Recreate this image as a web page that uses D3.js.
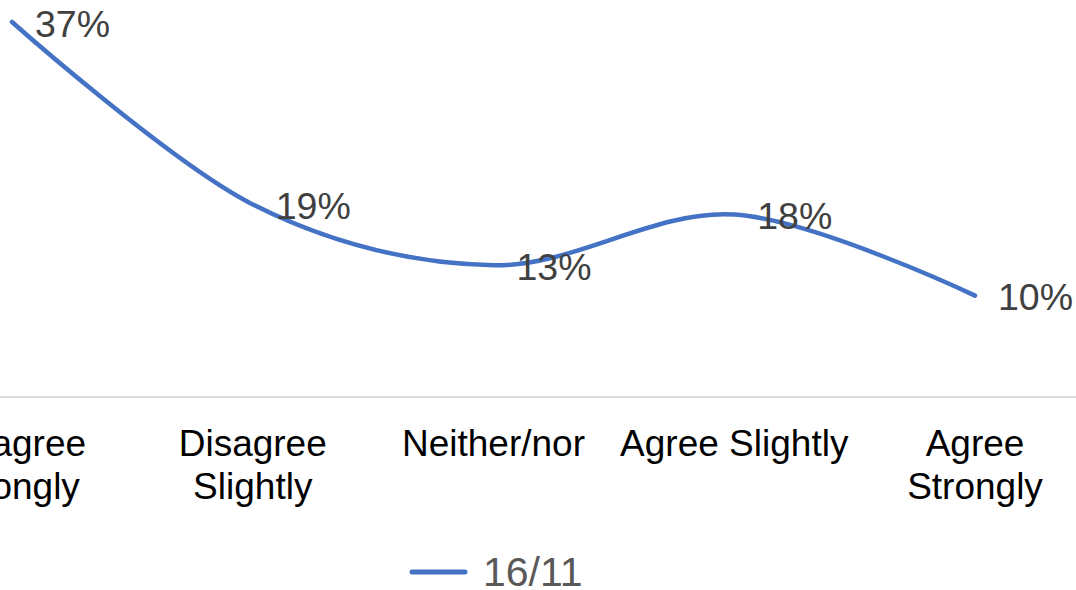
<!DOCTYPE html>
<html>
<head>
<meta charset="utf-8">
<script src="https://cdn.jsdelivr.net/npm/d3@7"></script>
<style>
  html, body { margin: 0; padding: 0; background: #fff; overflow: hidden; }
  svg { display: block; font-family: "Liberation Sans", Arial, sans-serif; }
</style>
</head>
<body>
<svg id="chart" width="1076" height="590"></svg>
<script>
const categories = [["Disagree", "Strongly"], ["Disagree", "Slightly"], ["Neither/nor"], ["Agree Slightly"], ["Agree", "Strongly"]];
const seriesName = "16/11";
const values = [37, 19, 13, 18, 10];
const labels = ["37%", "19%", "13%", "18%", "10%"];

const svg = d3.select("#chart");
const W = 1076, H = 590;

const x = d3.scalePoint().domain(d3.range(categories.length)).range([12, 975]);
const y = d3.scaleLinear().domain([0, 37]).range([397, 22]);

// axis baseline
svg.append("line")
  .attr("x1", 0).attr("x2", W)
  .attr("y1", y(0)).attr("y2", y(0))
  .attr("stroke", "#d9d9d9").attr("stroke-width", 2);

// category labels
const cat = svg.append("g").selectAll("text").data(categories).join("text")
  .attr("x", (d, i) => x(i))
  .attr("y", 456)
  .attr("text-anchor", "middle")
  .attr("font-size", 37)
  .attr("fill", "#000");
cat.selectAll("tspan").data(d => d).join("tspan")
  .attr("x", function() { return d3.select(this.parentNode).attr("x"); })
  .attr("dy", (d, j) => j === 0 ? 0 : 43)
  .text(d => d);

// line
const line = d3.line()
  .x((d, i) => x(i))
  .y(d => y(d))
  .curve(d3.curveCardinal.tension(0));
svg.append("path")
  .datum(values)
  .attr("d", line)
  .attr("fill", "none")
  .attr("stroke", "#4472C4")
  .attr("stroke-width", 4.5)
  .attr("stroke-linecap", "round")
  .attr("stroke-linejoin", "round");

// data labels
svg.append("g").selectAll("text").data(values).join("text")
  .attr("x", (d, i) => x(i) + 23)
  .attr("y", d => y(d) + 14.5)
  .attr("font-size", 37.5)
  .attr("fill", "#404040")
  .text((d, i) => labels[i]);

// legend
const lg = svg.append("g");
lg.append("line")
  .attr("x1", 412).attr("x2", 465)
  .attr("y1", 572).attr("y2", 572)
  .attr("stroke", "#4472C4").attr("stroke-width", 5)
  .attr("stroke-linecap", "round");
lg.append("text")
  .attr("x", 483).attr("y", 586)
  .attr("font-size", 41)
  .attr("fill", "#595959")
  .text(seriesName);
</script>
</body>
</html>
